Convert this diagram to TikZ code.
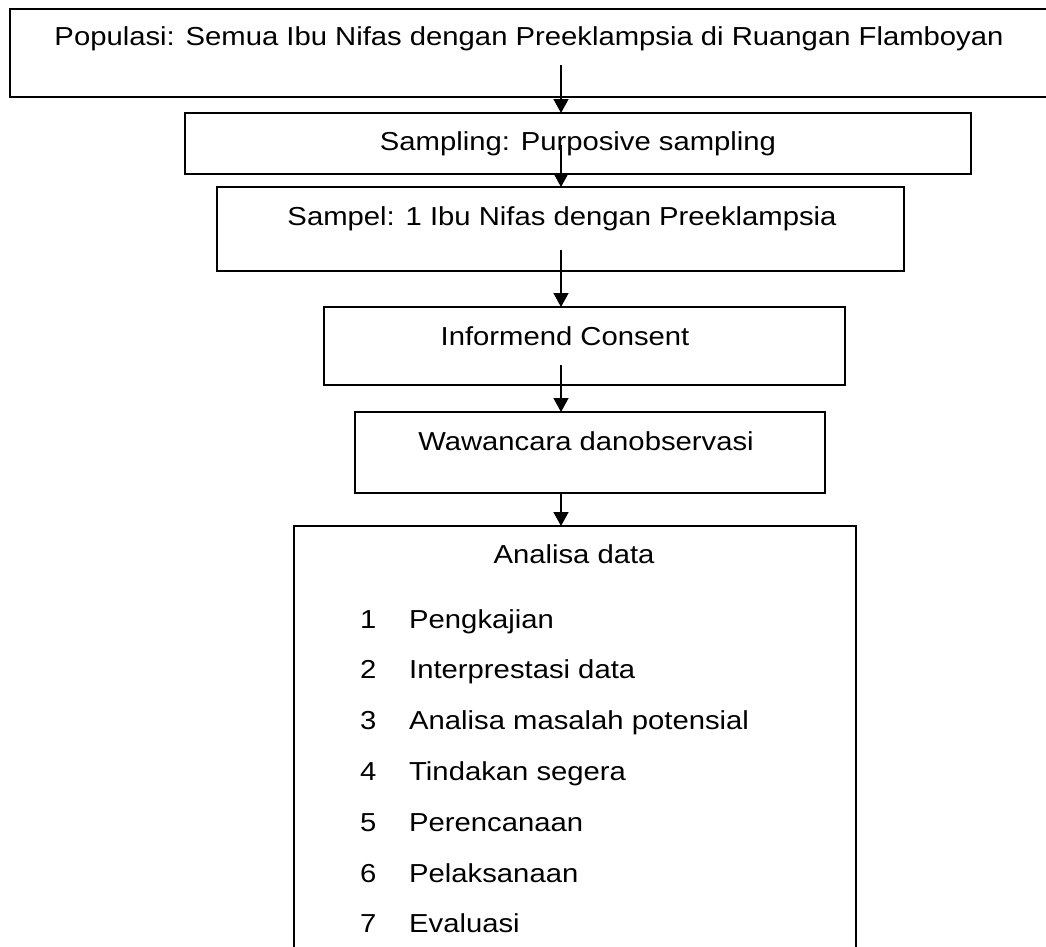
\documentclass[tikz,border=0pt]{standalone}
\usepackage{fontspec}
\setmainfont{Liberation Sans}[FakeStretch=1.125]
\usetikzlibrary{arrows.meta}
\tikzset{box/.style = {draw, line width=1.3pt, inner sep=0, outer sep=0}}
\tikzset{lbl/.style = {anchor=base, inner sep=0, font=\fontsize{26}{30}\selectfont}}
\tikzset{item/.style = {lbl, anchor=base west}}
\tikzset{arr/.style = {line width=1.5pt, -{Triangle[length=14pt, width=15pt]}}}

\begin{document}
\begin{tikzpicture}[x=1pt, y=-1pt]
    \useasboundingbox (0,0) rectangle (1046,946);
    \node [box, minimum width=1046pt, minimum height=88pt] (pop) at (533,53) {};
    \node [box, minimum width=786pt, minimum height=61pt] (smp) at (578,143.5) {};
    \node [box, minimum width=687pt, minimum height=84pt] (spl) at (560.5,229) {};
    \node [box, minimum width=521pt, minimum height=78pt] (inf) at (584.5,346) {};
    \node [box, minimum width=470pt, minimum height=81pt] (waw) at (590,452.5) {};
    \node [box, minimum width=562pt, minimum height=434pt] (ana) at (575,743) {};
    \node [lbl] (tpop) at (529,45) {Populasi: Semua Ibu Nifas dengan Preeklampsia di Ruangan Flamboyan};
    \node [lbl] (tsmp) at (578,150) {Sampling: Purposive sampling};
    \node [lbl] (tspl) at (562,225) {Sampel: 1 Ibu Nifas dengan Preeklampsia};
    \node [lbl] (tinf) at (565,345) {Informend Consent};
    \node [lbl] (twaw) at (586,450) {Wawancara danobservasi};
    \node [lbl] (tana) at (574,563) {Analisa data};
    \foreach \t [count=\i] in {Pengkajian, Interprestasi data, Analisa masalah potensial,
                               Tindakan segera, Perencanaan, Pelaksanaan, Evaluasi} {
      \node [item] (num\i) at (360, {577.17+50.83*\i}) {\i};
      \node [item] (itm\i) at (409, {577.17+50.83*\i}) {\t};
    }
    \coordinate (axis) at (561,0);
    \coordinate (s1) at (561,65);
    \coordinate (s2) at (561,145);
    \coordinate (s3) at (561,250);
    \coordinate (s4) at (561,365);
    \draw [arr] (s1) -- (axis |- smp.north);
    \draw [arr] (s2) -- (axis |- spl.north);
    \draw [arr] (s3) -- (axis |- inf.north);
    \draw [arr] (s4) -- (axis |- waw.north);
    \draw [arr] (axis |- waw.south) -- (axis |- ana.north);
  \end{tikzpicture}
\end{document}
